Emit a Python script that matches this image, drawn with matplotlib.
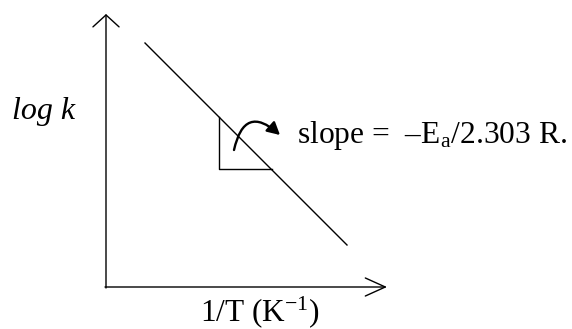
import matplotlib
matplotlib.use("Agg")
import matplotlib.pyplot as plt

plt.rcParams["font.family"] = ["Liberation Serif", "DejaVu Serif"]
plt.rcParams["mathtext.fontset"] = "custom"
plt.rcParams["mathtext.rm"] = "Liberation Serif"
plt.rcParams["mathtext.it"] = "Liberation Serif:italic"

# Arrhenius plot schematic (arbitrary units, origin at axes corner)
inv_T = [39, 241]          # 1/T at the two ends of the straight line
log_k = [244, 42]          # log k at the two ends
tri_x = [113, 113, 166]    # slope triangle (vertical then horizontal leg)
tri_y = [170, 118, 118]
axis_len_x = 281
axis_len_y = 273

slope_label = r"slope =  –E$_\mathrm{a}$/2.303 R."
xlabel = r"1/T (K$^{-1}$)"
ylabel = "log k"

fig = plt.figure(figsize=(5.72, 3.29), dpi=100)
ax = fig.add_axes([0, 0, 1, 1])
ax.set_xlim(-106, 466)
ax.set_ylim(-42, 287)
ax.axis("off")

# axes as open arrows
ax.annotate("", xy=(0, axis_len_y), xytext=(0, -1),
            arrowprops=dict(arrowstyle="->,head_length=0.86,head_width=0.94",
                            lw=1.0, color="black", shrinkA=0, shrinkB=0))
ax.annotate("", xy=(axis_len_x, 0), xytext=(-1, 0),
            arrowprops=dict(arrowstyle="->,head_length=1.44,head_width=0.65",
                            lw=1.0, color="black", shrinkA=0, shrinkB=0))

ax.plot(inv_T, log_k, color="black", lw=1.0)
ax.plot(tri_x, tri_y, color="black", lw=1.0)

# curved arrow pointing to the label
ax.annotate("", xy=(174, 152), xytext=(128, 137),
            arrowprops=dict(arrowstyle="-|>,head_length=0.75,head_width=0.4",
                            connectionstyle="arc3,rad=-0.85",
                            lw=1.7, color="black", shrinkA=0, shrinkB=0))

ax.text(191, 144, slope_label, fontsize=22.7, va="baseline", ha="left")
ax.text(-62, 175, ylabel, fontsize=23, style="italic", ha="center", va="center")
ax.text(154, -25, xlabel, fontsize=22.5, ha="center", va="center")

fig.savefig("out.png", dpi=100)
